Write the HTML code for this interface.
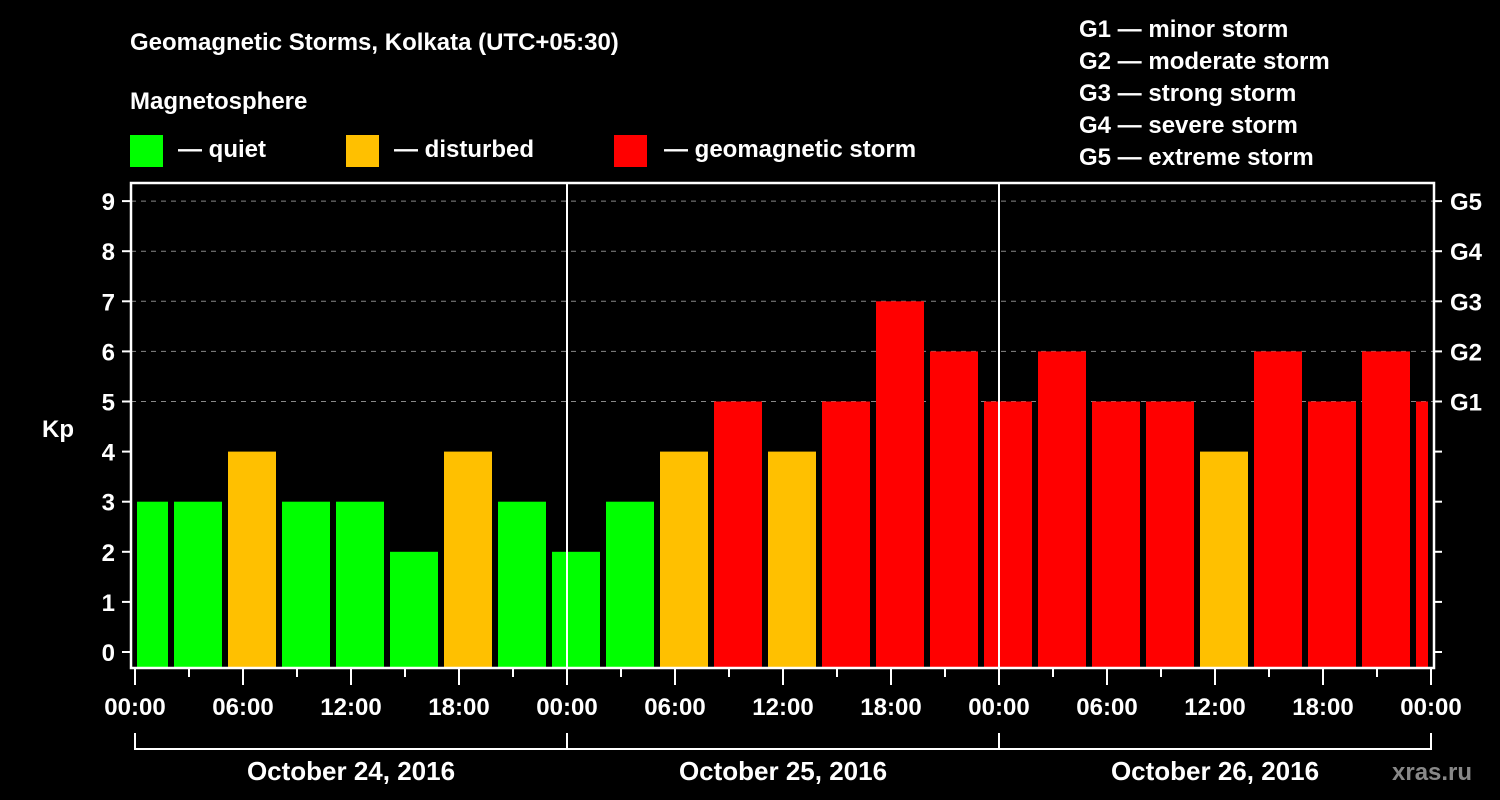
<!DOCTYPE html>
<html><head><meta charset="utf-8">
<style>
html,body{margin:0;padding:0;background:#000;}
svg{display:block;font-family:"Liberation Sans",sans-serif;font-weight:bold;}
</style></head>
<body>
<svg id="chart" width="1500" height="800" viewBox="0 0 1500 800">
<rect width="1500" height="800" fill="#000"/>
<text x="130" y="50" fill="#fff" font-size="24">Geomagnetic Storms, Kolkata (UTC+05:30)</text>
<text x="130" y="109" fill="#fff" font-size="24">Magnetosphere</text>
<g>
<rect x="130" y="135" width="33" height="32" fill="#00ff00"/>
<text x="178" y="157" fill="#fff" font-size="24">— quiet</text></g>
<g>
<rect x="346" y="135" width="33" height="32" fill="#ffc000"/>
<text x="394" y="157" fill="#fff" font-size="24">— disturbed</text></g>
<g>
<rect x="614" y="135" width="33" height="32" fill="#ff0000"/>
<text x="664" y="157" fill="#fff" font-size="24">— geomagnetic storm</text></g>
<g fill="#fff" font-size="24">
<text x="1079" y="37">G1 — minor storm</text>
<text x="1079" y="69">G2 — moderate storm</text>
<text x="1079" y="101">G3 — strong storm</text>
<text x="1079" y="133">G4 — severe storm</text>
<text x="1079" y="165">G5 — extreme storm</text>
</g>
<text x="42" y="437" fill="#fff" font-size="24">Kp</text>
<g id="grid"></g>
<g id="bars"></g>
<g id="axes"></g>
<text x="1392" y="780" fill="#888" font-size="24">xras.ru</text>
</svg>
<script>
const kpValues = [3,3,4,3,3,2,4,3,2,3,4,5,4,5,7,6,5,6,5,5,4,6,5,6,5];
const yTicks = [0,1,2,3,4,5,6,7,8,9];
const gLabels = ["G1","G2","G3","G4","G5"];
const gLevels = [5,6,7,8,9];
const timeLabels = ["00:00","06:00","12:00","18:00","00:00","06:00","12:00","18:00","00:00","06:00","12:00","18:00","00:00"];
const dayLabels = ["October 24, 2016","October 25, 2016","October 26, 2016"];

const NS="http://www.w3.org/2000/svg";
const X0=135, PXH=18, Y0=652, PXV=50.1, TOP=182, BOT=668, LEFT=131, RIGHT=1434;
const xs=h=>X0+h*PXH, ys=v=>Y0-v*PXV;
function mk(tag,attrs,parent){const e=document.createElementNS(NS,tag);for(const k in attrs)e.setAttribute(k,attrs[k]);parent.appendChild(e);return e;}
const grid=document.getElementById('grid'),bars=document.getElementById('bars'),axes=document.getElementById('axes');

gLevels.forEach((v,i)=>{
  const l=mk('line',{x1:LEFT,x2:RIGHT,y1:ys(v),y2:ys(v),stroke:'#888','stroke-width':1,'stroke-dasharray':'5,5'},grid);
  
  
  const t=mk('text',{x:1450,y:ys(v)+9,fill:'#fff','font-size':24},axes);
  t.textContent=gLabels[i];
  
  
});

kpValues.forEach((v,k)=>{
  const h0=-1+3*k, h1=h0+3;
  const xa=Math.max(xs(h0)+3,X0+2), xb=Math.min(xs(h1)-3,xs(72)-3);
  const col=v>=5?'#ff0000':(v>=4?'#ffc000':'#00ff00');
  const r=mk('rect',{x:xa,y:ys(v),width:xb-xa,height:BOT-ys(v),fill:col},bars);
  
  
});

[1,2].forEach(d=>{
  const l=mk('line',{x1:xs(24*d),x2:xs(24*d),y1:TOP,y2:BOT,stroke:'#fff','stroke-width':2},axes);
  
  
});
const fr=mk('rect',{x:LEFT,y:TOP+1,width:RIGHT-LEFT,height:BOT-TOP-1,fill:'none',stroke:'#fff','stroke-width':2.5},axes);



yTicks.forEach(v=>{
  mk('line',{x1:122,x2:LEFT,y1:ys(v),y2:ys(v),stroke:'#fff','stroke-width':2},axes);
  mk('line',{x1:RIGHT,x2:1442,y1:ys(v),y2:ys(v),stroke:'#fff','stroke-width':2},axes);
  const t=mk('text',{x:115,y:ys(v)+9,fill:'#fff','font-size':24,'text-anchor':'end'},axes);
  t.textContent=v;
  
  
});

for(let h=0;h<=72;h+=3){
  const major=h%6===0;
  mk('line',{x1:xs(h),x2:xs(h),y1:BOT,y2:major?685:677,stroke:'#fff','stroke-width':2},axes);
}
timeLabels.forEach((s,i)=>{
  const t=mk('text',{x:xs(6*i),y:715,fill:'#fff','font-size':24,'text-anchor':'middle'},axes);
  t.textContent=s;
  
  
});

mk('line',{x1:xs(0),x2:xs(72),y1:749,y2:749,stroke:'#fff','stroke-width':2},axes);
[0,1,2,3].forEach(d=>mk('line',{x1:xs(24*d),x2:xs(24*d),y1:733,y2:750,stroke:'#fff','stroke-width':2},axes));
dayLabels.forEach((s,i)=>{
  const t=mk('text',{x:xs(24*i+12),y:780,fill:'#fff','font-size':26,'text-anchor':'middle'},axes);
  t.textContent=s;
  
  
});
</script>
</body></html>
